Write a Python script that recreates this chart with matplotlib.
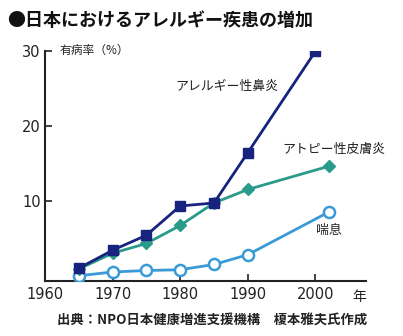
import matplotlib.pyplot as plt

plt.rcParams['font.family'] = ['Noto Sans CJK JP', 'DejaVu Sans']

# data (有病率 %)
years_rhinitis = [1965, 1970, 1975, 1980, 1985, 1990, 2000]
rhinitis = [1.0, 3.4, 5.4, 9.3, 9.7, 16.4, 29.9]
years_atopy = [1965, 1970, 1975, 1980, 1985, 1990, 2002]
atopy = [0.9, 3.0, 4.3, 6.7, 9.7, 11.5, 14.6]
years_asthma = [1965, 1970, 1975, 1980, 1985, 1990, 2002]
asthma = [0.0, 0.5, 0.7, 0.8, 1.5, 2.8, 8.5]

xticks = [1960, 1970, 1980, 1990, 2000]
yticks = [10, 20, 30]

navy = '#17237f'
teal = '#2a9a8a'
light = '#3a9ad8'

fig = plt.figure(figsize=(4.03, 3.36), dpi=100)
ax = fig.add_axes([0.1117, 0.1637, 0.7965, 0.6853])

ax.plot(years_asthma, asthma, color=light, lw=2, marker='o', ms=8,
        mfc='white', mec=light, mew=1.8, zorder=3)
ax.plot(years_atopy, atopy, color=teal, lw=2, marker='D', ms=6.5,
        mfc=teal, mec=teal, zorder=4)
ax.plot(years_rhinitis, rhinitis, color=navy, lw=2, marker='s', ms=7,
        mfc=navy, mec=navy, zorder=5)

ax.set_xlim(1960, 2007.5)
ax.set_ylim(-0.7, 30)
ax.set_xticks(xticks)
ax.set_yticks(yticks)
ax.tick_params(direction='in', length=5, width=1.2, labelsize=10.5,
               colors='#222222', pad=4)
ax.tick_params(axis='y', pad=3)
for lab in ax.get_xticklabels() + ax.get_yticklabels():
    lab.set_family('DejaVu Sans')
for s in ['top', 'right']:
    ax.spines[s].set_visible(False)
for s in ['left', 'bottom']:
    ax.spines[s].set_linewidth(1.5)
    ax.spines[s].set_color('#222222')

fig.text(0.018, 0.94, '●日本におけるアレルギー疾患の増加', fontsize=13,
         fontweight='bold', va='center', ha='left', color='#111111')
fig.text(0.148, 0.849, '有病率（%）', fontsize=8.5, va='center', ha='left',
         color='#222222')
ax.text(1994.6, 25.3, 'アレルギー性鼻炎', fontsize=9.3, ha='right', va='center',
        color='#222222')
ax.text(2002.8, 16.8, 'アトピー性皮膚炎', fontsize=9.3, ha='center', va='center',
        color='#222222')
ax.text(2002.0, 6.0, '喘息', fontsize=9.3, ha='center', va='center',
        color='#222222')
ax.text(2006.5, -1.9, '年', fontsize=10, ha='center', va='top', color='#222222')
fig.text(0.911, 0.05, '出典：NPO日本健康増進支援機構　榎本雅夫氏作成', fontsize=9.6,
         fontweight='bold', ha='right', va='center', color='#222222')

fig.savefig('out.png', dpi=100)
